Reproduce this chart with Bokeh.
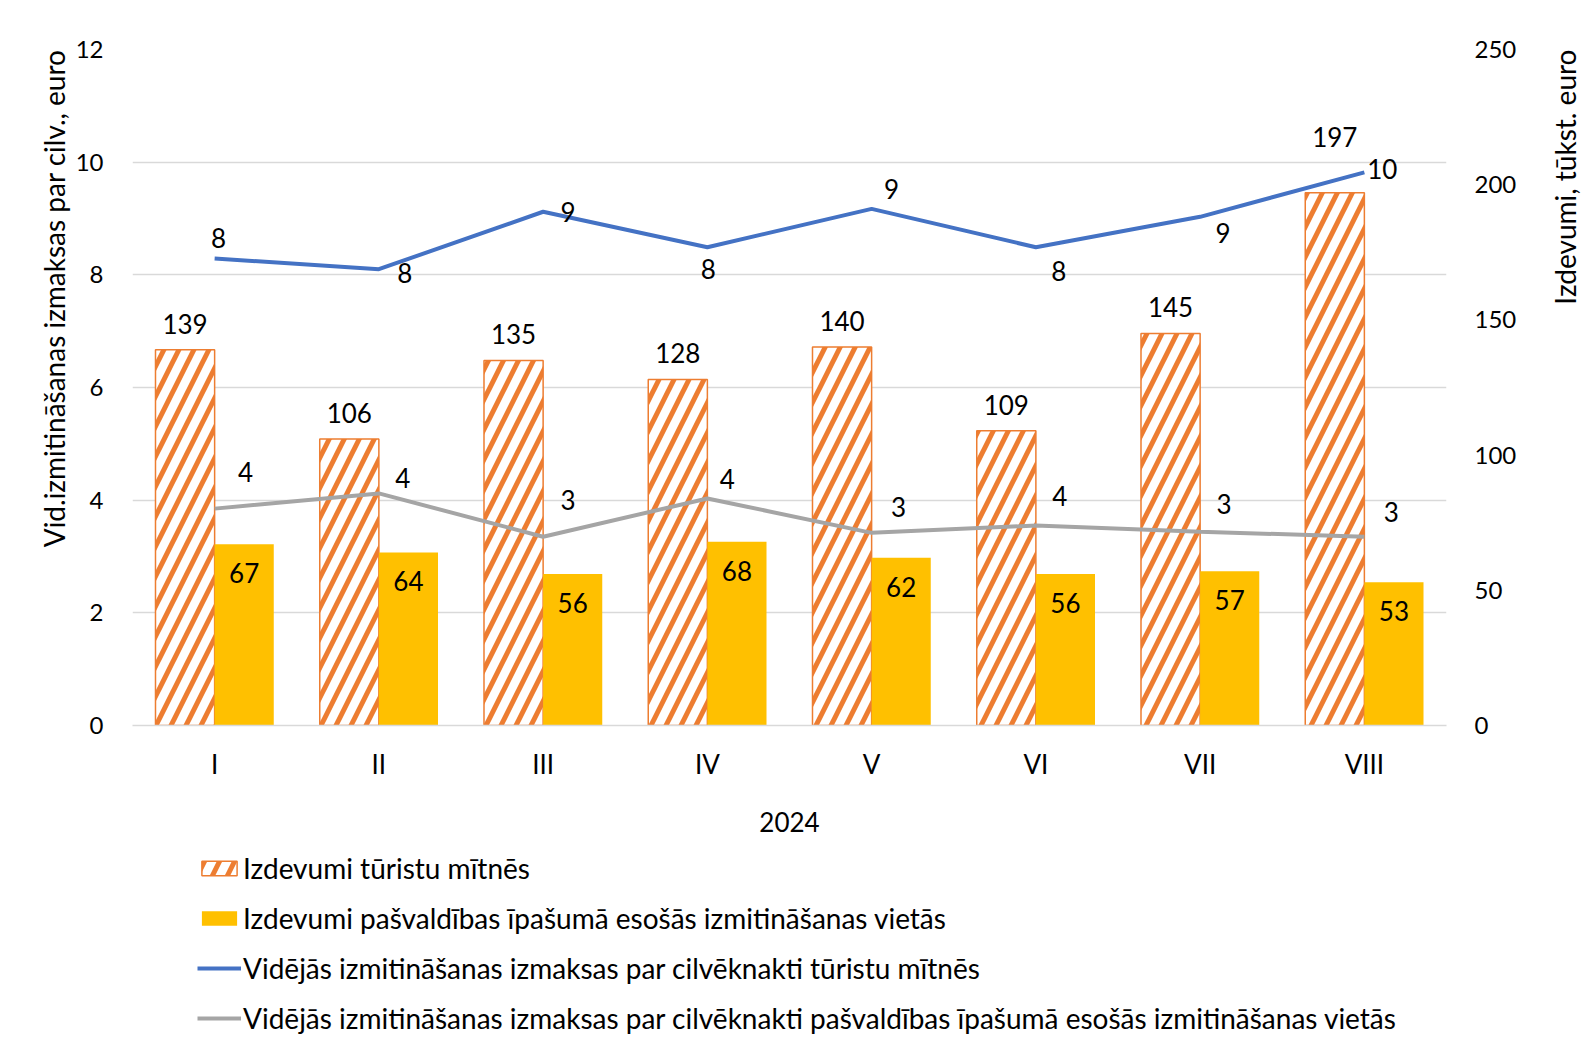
import numpy as np
from bokeh.plotting import figure
from bokeh.layouts import column, row
from bokeh.models import (FactorRange, Range1d, LinearAxis, FixedTicker, ColumnDataSource,
                          LabelSet, Legend, LegendItem, Title)
from bokeh.core.properties import value
from bokeh.transform import dodge
from bokeh.embed import file_html
from bokeh.resources import INLINE

# ---------------- data ----------------
months = ["I", "II", "III", "IV", "V", "VI", "VII", "VIII"]
year_label = "2024"
exp_tourist = [139, 106, 135, 128, 140, 109, 145, 197]      # thousand euro
exp_municipal = [67, 64, 56, 68, 62, 56, 57, 53]            # thousand euro
avg_tourist = [8.29, 8.10, 9.12, 8.49, 9.17, 8.49, 9.03, 9.82]     # euro per person-night
avg_municipal = [3.85, 4.12, 3.35, 4.03, 3.42, 3.55, 3.44, 3.35]   # euro per person-night
left_ticks = [0, 2, 4, 6, 8, 10, 12]
right_ticks = [0, 50, 100, 150, 200, 250]

names = ["Izdevumi tūristu mītnēs",
         "Izdevumi pašvaldības īpašumā esošās izmitināšanas vietās",
         "Vidējās izmitināšanas izmaksas par cilvēknakti tūristu mītnēs",
         "Vidējās izmitināšanas izmaksas par cilvēknakti pašvaldības īpašumā esošās izmitināšanas vietās"]
left_title = "Vid.izmitināšanas izmaksas par cilv., euro"
right_title = "Izdevumi, tūkst. euro"

# label placement offsets (screen px, up = positive)
blue_dx = [4, 26, 25, 1, 20, 23, 23, 18]
blue_dy = [20, -4, 0, -22, 20, -24, -16, 3]
gray_dx = [31, 24, 25, 20, 27, 24, 24, 27]
gray_dy = [37, 15, 37, 19, 26, 30, 28, 25]
bar1_dy = [26, 26, 26, 26, 26, 26, 26, 56]
bar2_dy = [-29] * 8

FONT = "Lato"
ORANGE = "#ED7D31"
YELLOW = "#FFC000"
BLUE = "#4472C4"
GRAY = "#A5A5A5"

bar_tourist_style = dict(fill_color="white", line_color=ORANGE, line_width=1.5,
                         hatch_pattern="/", hatch_color=ORANGE, hatch_weight=5, hatch_scale=30)
bar_muni_style = dict(fill_color=YELLOW, line_color=None)
line_tourist_style = dict(line_color=BLUE, line_width=4)
line_muni_style = dict(line_color=GRAY, line_width=4)

FW, FH = 1314, 676
MAIN_W, MAIN_H = 1545, 850
SIDE_W = 38
LEG_H = 197

p = figure(frame_width=FW, frame_height=FH,
           x_range=FactorRange(factors=months, range_padding=0),
           y_range=Range1d(0, 12), output_backend="svg", toolbar_location=None,
           min_border_left=132, min_border_right=MAIN_W - 132 - FW, min_border_top=49,
           min_border_bottom=MAIN_H - 49 - FH)
p.extra_y_ranges = {"right": Range1d(0, 250)}
p.outline_line_color = None
p.background_fill_color = "white"
p.border_fill_color = "white"

src = ColumnDataSource(dict(
    m=months, t1=exp_tourist, t2=exp_municipal, a1=avg_tourist, a2=avg_municipal,
    l1=[str(v) for v in exp_tourist], l2=[str(v) for v in exp_municipal],
    la1=[f"{v:.0f}" for v in avg_tourist], la2=[f"{v:.0f}" for v in avg_municipal],
    bdx=blue_dx, bdy=blue_dy, gdx=gray_dx, gdy=gray_dy, b1dy=bar1_dy, b2dy=bar2_dy))

p.vbar(x=dodge("m", -0.18, range=p.x_range), top="t1", width=0.36, source=src,
       y_range_name="right", **bar_tourist_style)
p.vbar(x=dodge("m", 0.18, range=p.x_range), top="t2", width=0.36, source=src,
       y_range_name="right", **bar_muni_style)
p.line(x="m", y="a1", source=src, **line_tourist_style)
p.line(x="m", y="a2", source=src, **line_muni_style)

lbl_kw = dict(text_font=value(FONT), text_font_size="26px", text_color="black",
              text_align="center", text_baseline="middle", source=src)
p.add_layout(LabelSet(x=dodge("m", -0.18, range=p.x_range), y="t1", text="l1",
                      y_offset="b1dy", y_range_name="right", **lbl_kw))
p.add_layout(LabelSet(x=dodge("m", 0.18, range=p.x_range), y="t2", text="l2",
                      y_offset="b2dy", y_range_name="right", **lbl_kw))
p.add_layout(LabelSet(x="m", y="a1", text="la1", x_offset="bdx", y_offset="bdy", **lbl_kw))
p.add_layout(LabelSet(x="m", y="a2", text="la2", x_offset="gdx", y_offset="gdy", **lbl_kw))

# axes
p.yaxis.ticker = FixedTicker(ticks=left_ticks)
p.yaxis.axis_line_color = None
p.yaxis.major_tick_line_color = None
p.yaxis.minor_tick_line_color = None
p.yaxis.major_label_standoff = 23
p.yaxis.major_label_text_font = FONT
p.yaxis.major_label_text_font_size = "24px"
p.yaxis.major_label_text_color = "black"

ax_r = LinearAxis(y_range_name="right", ticker=FixedTicker(ticks=right_ticks),
                  axis_line_color=None, major_tick_line_color=None, minor_tick_line_color=None,
                  major_label_standoff=22, major_label_text_font=FONT,
                  major_label_text_font_size="24px", major_label_text_color="black")
p.add_layout(ax_r, "right")

p.xaxis.axis_line_color = "#D9D9D9"
p.xaxis.axis_line_width = 1.5
p.xaxis.major_tick_line_color = None
p.xaxis.minor_tick_line_color = None
p.xaxis.major_label_standoff = 16
p.xaxis.major_label_text_font = FONT
p.xaxis.major_label_text_font_size = "26px"
p.xaxis.major_label_text_color = "black"

p.xgrid.grid_line_color = None
p.ygrid.grid_line_color = "#D9D9D9"
p.ygrid.grid_line_width = 1.5

p.add_layout(Title(text=left_title, align="right", text_font=FONT, text_font_size="28px",
                   text_font_style="normal", text_color="black", standoff=4), "left")
p.add_layout(Title(text=year_label, align="center", text_font=FONT, text_font_size="26px",
                   text_font_style="normal", text_color="black", standoff=54), "below")

# ---- right-hand axis title (reads bottom-to-top, placed at the top) ----
side = figure(width=SIDE_W, height=MAIN_H, output_backend="svg", toolbar_location=None,
              title=None, x_axis_location=None, y_axis_location=None,
              x_range=Range1d(0, 1), y_range=Range1d(0, 1),
              min_border_left=0, min_border_right=0, min_border_top=10, min_border_bottom=0)
side.outline_line_color = None
side.grid.visible = False
side.add_layout(Title(text=right_title, align="right", text_font=FONT, text_font_size="28px",
                      text_font_style="normal", text_color="black", standoff=0), "left")

# ---- legend strip: legend glyph renderers hold no drawable (NaN) points ----
leg_src = ColumnDataSource(dict(x=np.array([np.nan]), y=np.array([np.nan])))
leg = figure(width=MAIN_W + SIDE_W, height=LEG_H, output_backend="svg", toolbar_location=None,
             title=None, x_axis_location=None, y_axis_location=None,
             x_range=Range1d(0, 1), y_range=Range1d(0, 1),
             min_border_left=0, min_border_right=0, min_border_top=0, min_border_bottom=0)
leg.outline_line_color = None
leg.grid.visible = False
g1 = leg.vbar(x="x", top="y", width=0.36, source=leg_src, **bar_tourist_style)
g2 = leg.vbar(x="x", top="y", width=0.36, source=leg_src, **bar_muni_style)
g3 = leg.line(x="x", y="y", source=leg_src, **line_tourist_style)
g4 = leg.line(x="x", y="y", source=leg_src, **line_muni_style)
legend = Legend(items=[LegendItem(label=names[0], renderers=[g1]),
                       LegendItem(label=names[1], renderers=[g2]),
                       LegendItem(label=names[2], renderers=[g3]),
                       LegendItem(label=names[3], renderers=[g4])],
                orientation="vertical", location=(197, 20), padding=0, margin=0,
                border_line_color=None, background_fill_alpha=0,
                label_text_font=FONT, label_text_font_size="28px", label_standoff=2,
                label_text_color="black",
                glyph_width=44, glyph_height=18, spacing=16)
leg.add_layout(legend)

layout = column(row(p, side, spacing=0), leg, spacing=0)
open("out.html", "w").write(file_html(layout, INLINE))
